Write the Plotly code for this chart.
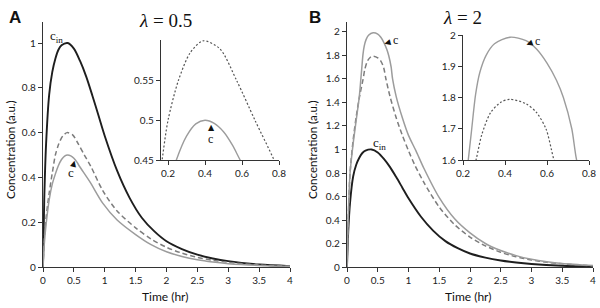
import plotly.graph_objects as go

# ---------------- data ----------------
t_cin = [0, 0.02, 0.05, 0.1, 0.15, 0.2, 0.25, 0.3, 0.4, 0.5, 0.6, 0.7, 0.8, 0.9,
         1.0, 1.2, 1.4, 1.6, 1.8, 2.0, 2.25, 2.5, 2.75, 3.0, 3.5, 4.0]
c_in = [0, 0.3, 0.55, 0.77, 0.87, 0.93, 0.97, 0.99, 1.0, 0.975, 0.92, 0.85, 0.765, 0.675,
        0.585, 0.43, 0.31, 0.22, 0.16, 0.115, 0.08, 0.055, 0.038, 0.026, 0.011, 0.004]

# Panel A (lambda = 0.5)
t_a_dash = [0, 0.02, 0.05, 0.1, 0.168, 0.2, 0.256, 0.32, 0.39, 0.48, 0.571, 0.67, 0.773,
            0.97, 1.2, 1.5, 1.75, 2.0, 2.25, 2.5, 2.75, 3.0, 3.5, 4.0]
a_dash = [0, 0.12, 0.22, 0.33, 0.45, 0.5, 0.55, 0.585, 0.6, 0.59, 0.55, 0.5, 0.45,
          0.34, 0.25, 0.175, 0.125, 0.088, 0.062, 0.043, 0.03, 0.021, 0.009, 0.003]
t_a_c = [0, 0.02, 0.05, 0.1, 0.15, 0.2, 0.245, 0.3, 0.35, 0.4, 0.45, 0.5, 0.55, 0.59,
         0.76, 0.97, 1.2, 1.5, 1.75, 2.0, 2.25, 2.5, 2.75, 3.0, 3.5, 4.0]
a_c = [0, 0.1, 0.19, 0.3, 0.37, 0.415, 0.45, 0.48, 0.4955, 0.5, 0.496, 0.4855, 0.468, 0.45,
       0.38, 0.284, 0.21, 0.145, 0.1, 0.068, 0.047, 0.032, 0.022, 0.015, 0.007, 0.003]

# Panel B (lambda = 2)
t_b_c = [0, 0.02, 0.05, 0.1, 0.15, 0.2, 0.225, 0.24, 0.26, 0.28, 0.31, 0.35, 0.424,
         0.5, 0.55, 0.6, 0.645, 0.678, 0.718, 0.741, 0.8, 0.9, 1.0, 1.12, 1.25, 1.5,
         1.75, 2.0, 2.25, 2.5, 2.75, 3.0, 3.25, 3.5, 4.0]
b_c = [0, 0.42, 0.8, 1.05, 1.25, 1.45, 1.6, 1.69, 1.81, 1.88, 1.935, 1.972, 1.993,
       1.982, 1.955, 1.91, 1.855, 1.8, 1.7, 1.6, 1.45, 1.27, 1.12, 0.99, 0.84, 0.59,
       0.41, 0.29, 0.2, 0.14, 0.097, 0.066, 0.045, 0.03, 0.012]
t_b_dash = [0, 0.02, 0.05, 0.1, 0.15, 0.2, 0.262, 0.289, 0.33, 0.38, 0.424, 0.5, 0.55,
            0.595, 0.633, 0.7, 0.8, 0.9, 1.0, 1.1, 1.25, 1.5, 1.75, 2.0, 2.25, 2.5,
            2.75, 3.0, 3.25, 3.5, 4.0]
b_dash = [0, 0.4, 0.8, 1.08, 1.28, 1.44, 1.6, 1.68, 1.75, 1.785, 1.794, 1.78, 1.752,
          1.7, 1.6, 1.45, 1.27, 1.12, 0.99, 0.87, 0.72, 0.51, 0.36, 0.255, 0.18, 0.125,
          0.087, 0.06, 0.04, 0.027, 0.01]

main_xticks = [0, 0.5, 1, 1.5, 2, 2.5, 3, 3.5, 4]
a_yticks = [0, 0.2, 0.4, 0.6, 0.8, 1]
b_yticks = [0, 0.2, 0.4, 0.6, 0.8, 1, 1.2, 1.4, 1.6, 1.8, 2]
inset_xticks = [0.2, 0.4, 0.6, 0.8]
a_inset_yticks = [0.45, 0.5, 0.55]
b_inset_yticks = [1.6, 1.7, 1.8, 1.9, 2]

# ---------------- figure ----------------
W, H = 600, 308
def px(x): return x / W
def py(y): return 1 - y / H

BLACK = '#1e1e1e'
GRAY = '#9c9c9c'
DGRAY = '#7c7c7c'
TICKFONT = dict(family='Lato', size=10, color='#222')

def axis(**kw):
    d = dict(showgrid=False, zeroline=False, showline=True, linecolor='#333',
             linewidth=1.4, ticks='outside', ticklen=4, tickwidth=1.2,
             tickcolor='#333', tickfont=TICKFONT, fixedrange=True, automargin=False)
    d.update(kw)
    return d

fig = go.Figure()
spl = dict(shape='spline', smoothing=0.8)

def add(x, y, color, width, dash, xa, ya):
    fig.add_trace(go.Scatter(x=x, y=y, mode='lines', xaxis=xa, yaxis=ya,
                             line=dict(color=color, width=width, dash=dash, **spl),
                             showlegend=False, hoverinfo='skip'))

# A main
add(t_cin, c_in, BLACK, 1.9, 'solid', 'x', 'y')
add(t_a_dash, a_dash, DGRAY, 1.5, '5px,3px', 'x', 'y')
add(t_a_c, a_c, GRAY, 1.5, 'solid', 'x', 'y')
# A inset
add(t_a_dash, a_dash, '#555', 1.2, '2px,2px', 'x2', 'y2')
add(t_a_c, a_c, GRAY, 1.4, 'solid', 'x2', 'y2')
# B main
add(t_cin, c_in, BLACK, 1.9, 'solid', 'x3', 'y3')
add(t_b_dash, b_dash, DGRAY, 1.5, '5px,3px', 'x3', 'y3')
add(t_b_c, b_c, GRAY, 1.5, 'solid', 'x3', 'y3')
# B inset
add(t_b_dash, b_dash, '#555', 1.2, '2px,2px', 'x4', 'y4')
add(t_b_c, b_c, GRAY, 1.4, 'solid', 'x4', 'y4')

fig.update_layout(
    width=W, height=H, margin=dict(l=0, r=0, t=0, b=0, autoexpand=False),
    paper_bgcolor='white', plot_bgcolor='rgba(0,0,0,0)',
    xaxis=axis(domain=[px(43), px(290)], range=[0, 4], tickvals=main_xticks, anchor='y'),
    yaxis=axis(domain=[py(267), py(22)], range=[0, 1.094], tickvals=a_yticks, anchor='x'),
    xaxis2=axis(domain=[px(161), px(279)], range=[0.162, 0.8], tickvals=inset_xticks, anchor='y2'),
    yaxis2=axis(domain=[py(160), py(40)], range=[0.45, 0.601], tickvals=a_inset_yticks, anchor='x2'),
    xaxis3=axis(domain=[px(347), px(593)], range=[0, 4], tickvals=main_xticks, anchor='y3'),
    yaxis3=axis(domain=[py(267), py(22)], range=[0, 2.085], tickvals=b_yticks, anchor='x3'),
    xaxis4=axis(domain=[px(463), px(589)], range=[0.2, 0.8], tickvals=inset_xticks, anchor='y4'),
    yaxis4=axis(domain=[py(160), py(35)], range=[1.6, 2.0], tickvals=b_inset_yticks, anchor='x4'),
)

def note(text, x, y, size=12, family='Lato', color='#111', angle=0):
    fig.add_annotation(text=text, x=px(x), y=py(y), xref='paper', yref='paper',
                       xanchor='center', yanchor='middle', showarrow=False,
                       textangle=angle, borderpad=0,
                       font=dict(family=family, size=size, color=color))

SERIF = 'Liberation Serif'
# panel letters
note('<b>A</b>', 15, 17, size=17, family='Liberation Sans')
note('<b>B</b>', 315, 17, size=17, family='Liberation Sans')
# lambda titles
note('<i>λ</i> = 0.5', 165, 20, size=19, family=SERIF)
note('<i>λ</i> = 2', 463, 18, size=19, family=SERIF)
# axis titles
note('Concentration (a.u.)', 10, 150, size=11.5, angle=-90)
note('Concentration (a.u.)', 312, 150, size=11.5, angle=-90)
note('Time (hr)', 165, 296, size=12)
note('Time (hr)', 468, 296, size=12)
# curve labels
note('c<sub>in</sub>', 56, 36, size=13, family=SERIF)
note('c<sub>in</sub>', 379, 143, size=13, family=SERIF)
note('c', 71, 172, size=13, family=SERIF)
note('▲', 74, 163, size=8, family='DejaVu Sans', angle=15)
note('c', 210, 139, size=12, family=SERIF)
note('▲', 211, 127, size=8, family='DejaVu Sans')
note('c', 395, 40, size=12, family=SERIF)
note('◀', 387, 42, size=8, family='DejaVu Sans', angle=-15)
note('c', 537, 41, size=12, family=SERIF)
note('◀', 529, 43, size=8, family='DejaVu Sans', angle=-20)

# the figure fills the 600x308 window exactly, so drop the default page margin
fig.write_html('out.html', config={'displayModeBar': False},
               post_script="document.body.style.margin='0';")
